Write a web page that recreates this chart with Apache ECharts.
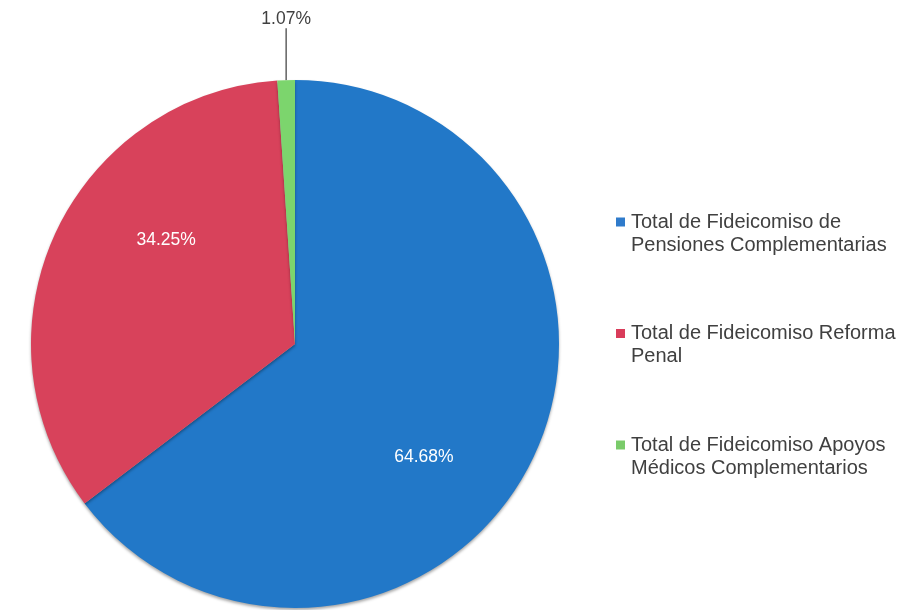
<!DOCTYPE html>
<html>
<head>
<meta charset="utf-8">
<script src="https://cdn.jsdelivr.net/npm/echarts@6/dist/echarts.min.js"></script>
<style>
  html, body { margin: 0; padding: 0; background: #ffffff; }
  #chart { width: 904px; height: 610px; }
</style>
</head>
<body>
<div id="chart"></div>
<script>
// ---- Data ----
const categories = [
  'Total de Fideicomiso de Pensiones Complementarias',
  'Total de Fideicomiso Reforma Penal',
  'Total de Fideicomiso Apoyos Médicos Complementarios'
];
const legendLines = [
  ['Total de Fideicomiso de', 'Pensiones Complementarias'],
  ['Total de Fideicomiso Reforma', 'Penal'],
  ['Total de Fideicomiso Apoyos', 'Médicos Complementarios']
];
const percentages = [64.68, 34.25, 1.07];

// ---- Styles ----
const sliceColors = ['#2278C8', '#D8425B', '#7CD56D'];
const markerColors = ['#2F7BCB', '#D93C5A', '#7ACB6A'];
const labelShift = [[8, 53], [-6, -48], null];
const textColor = '#404040';
const fontFamily = '"Liberation Sans", Arial, sans-serif';

const chart = echarts.init(document.getElementById('chart'), null, { renderer: 'canvas' });

const rich = {
  t: { fontSize: 20, lineHeight: 23, color: textColor, fontFamily: fontFamily, padding: [0, 0, 0, 6] },
  t2: { fontSize: 20, lineHeight: 23, color: textColor, fontFamily: fontFamily, padding: [0, 0, 0, 15] }
};
markerColors.forEach((c, i) => {
  rich['m' + i] = { width: 9, height: 9, backgroundColor: c, lineHeight: 23 };
});

const data = categories.map((name, i) => {
  const inside = i < 2;
  return {
    name: name,
    value: percentages[i],
    itemStyle: { color: sliceColors[i] },
    label: inside ? {
      position: 'inside',
      color: '#ffffff',
      fontSize: 17.5,
      fontFamily: fontFamily
    } : {
      position: 'outside',
      color: textColor,
      fontSize: 17.5,
      fontFamily: fontFamily
    },
    labelLine: inside ? { show: false } : {
      show: true,
      length: 52,
      length2: 0,
      lineStyle: { color: '#3a3a3a', width: 1.2 }
    }
  };
});

chart.setOption({
  animation: false,
  backgroundColor: '#ffffff',
  legend: {
    orient: 'vertical',
    left: 611,
    top: 212,
    padding: 0,
    itemGap: 68.5,
    itemWidth: 0,
    itemHeight: 0,
    icon: 'none',
    selectedMode: false,
    data: categories,
    formatter: function (name) {
      const i = categories.indexOf(name);
      return '{m' + i + '|}{t|' + legendLines[i][0] + '}\n{t2|' + legendLines[i][1] + '}';
    },
    textStyle: { rich: rich, color: textColor, fontSize: 20, fontFamily: fontFamily }
  },
  series: [{
    type: 'pie',
    center: [295, 344],
    radius: 264,
    startAngle: 90,
    clockwise: true,
    avoidLabelOverlap: false,
    data: data,
    label: {
      show: true,
      formatter: function (p) { return p.value.toFixed(2) + '%'; }
    },
    itemStyle: {
      borderWidth: 0,
      shadowBlur: 3,
      shadowOffsetY: 2,
      shadowColor: 'rgba(0,0,0,0.35)'
    },
    emphasis: { disabled: true },
    labelLayout: function (params) {
      const i = params.dataIndex;
      if (labelShift[i]) {
        return { dx: labelShift[i][0], dy: labelShift[i][1] };
      }
      const pts = params.labelLinePoints;
      if (pts && pts.length) {
        const p0 = pts[0];
        return {
          x: p0[0],
          y: p0[1] - 52,
          align: 'center',
          verticalAlign: 'bottom',
          labelLinePoints: [[p0[0], p0[1]], [p0[0], p0[1] - 52]]
        };
      }
      return {};
    }
  }]
});
</script>
</body>
</html>
